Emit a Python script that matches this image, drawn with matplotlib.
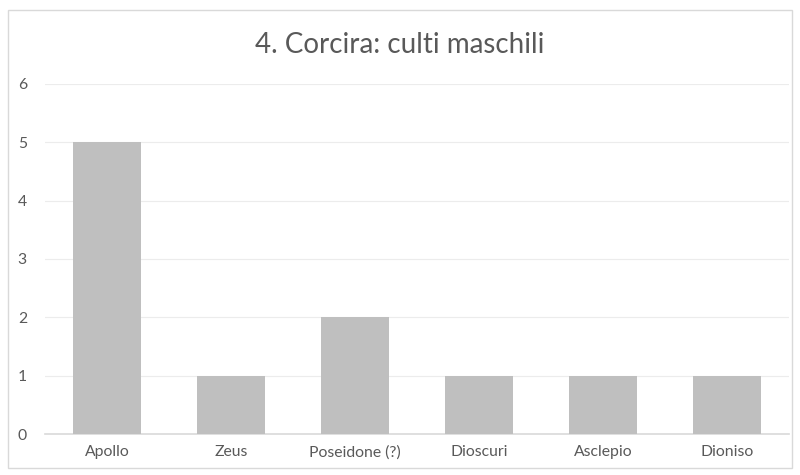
import matplotlib.pyplot as plt
from matplotlib.patches import Rectangle

# data
categories = ['Apollo', 'Zeus', 'Poseidone (?)', 'Dioscuri', 'Asclepio', 'Dioniso']
values = [5, 1, 2, 1, 1, 1]
yticks = [0, 1, 2, 3, 4, 5, 6]

plt.rcParams['font.family'] = ['Lato', 'DejaVu Sans']

fig = plt.figure(figsize=(8, 4.75), dpi=100)
ax = fig.add_axes([0.05625, 0.0863, 0.93, 0.737])

# chart border
fig.patches.append(Rectangle((8/800, 1 - 468/475), 784/800, 458/475, transform=fig.transFigure,
                             fill=False, edgecolor='#d9d9d9', linewidth=1))

x = list(range(len(categories)))
ax.bar(x, values, width=0.55, color='#bfbfbf', zorder=3)

ax.set_xlim(-0.5, len(categories) - 0.5)
ax.set_ylim(0, 6)
ax.set_yticks(yticks)
ax.set_xticks(x)
ax.set_xticklabels(categories)
ax.grid(axis='y', color='#ececec', linewidth=0.8, zorder=0)
ax.tick_params(length=0, labelsize=11.3, colors='#595959', pad=8)
ax.tick_params(axis='y', pad=13)
for s in ['top', 'right', 'left']:
    ax.spines[s].set_visible(False)
ax.spines['bottom'].set_color('#d9d9d9')
ax.spines['bottom'].set_linewidth(1.2)

fig.text(0.5, 1 - 45/475, '4. Corcira: culti maschili', ha='center', va='center',
         fontsize=20, color='#595959')

plt.savefig('out.png', dpi=100)
